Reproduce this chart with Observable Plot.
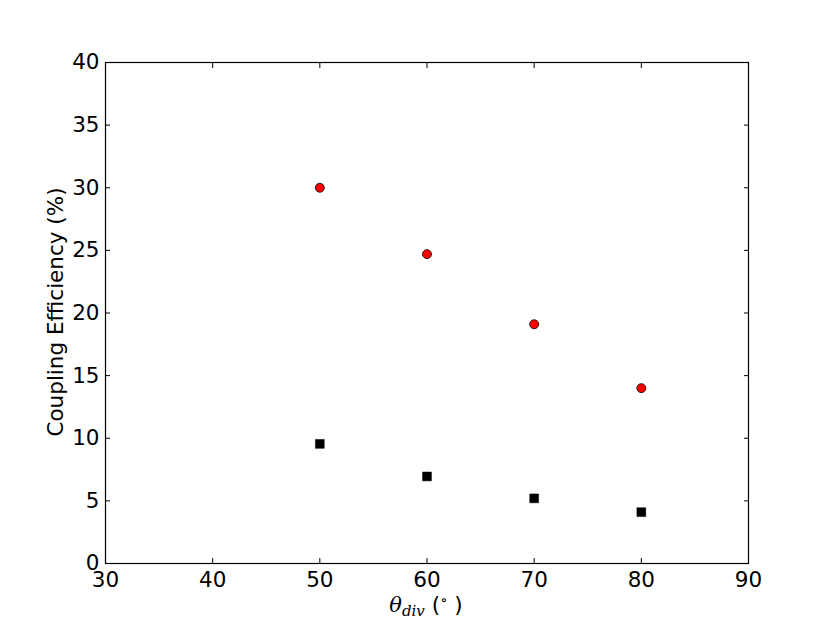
<!DOCTYPE html>
<html>
<head>
<meta charset="utf-8">
<script src="https://cdn.jsdelivr.net/npm/d3@7"></script>
<script src="https://cdn.jsdelivr.net/npm/@observablehq/plot@0.6"></script>
<style>
  html, body { margin: 0; padding: 0; background: #fff; }
  #chart svg { display: block; }
</style>
</head>
<body>
<div id="chart"></div>
<script>
const thetaDiv = [50, 60, 70, 80];
const efficiencyCircles = [30.0, 24.7, 19.1, 14.0];
const efficiencySquares = [9.55, 6.95, 5.2, 4.1];
const xTicks = [30, 40, 50, 60, 70, 80, 90];
const yTicks = [0, 5, 10, 15, 20, 25, 30, 35, 40];

const circles = thetaDiv.map((t, i) => ({x: t, y: efficiencyCircles[i]}));
const squares = thetaDiv.map((t, i) => ({x: t, y: efficiencySquares[i]}));

const font = "DejaVu Sans, sans-serif";
const blank = () => "";
const fs = 21.5;

const plot = Plot.plot({
  width: 830,
  height: 626,
  marginLeft: 105,
  marginRight: 82,
  marginTop: 62,
  marginBottom: 63,
  style: {fontFamily: font, fontSize: fs + "px", color: "black", background: "white"},
  x: {domain: [30, 90]},
  y: {domain: [0, 40]},
  marks: [
    Plot.axisX({anchor: "bottom", ticks: xTicks, tickSize: -5, tickPadding: 13, label: null, fontSize: fs}),
    Plot.axisX({anchor: "top", ticks: xTicks, tickSize: -5, tickFormat: blank, label: null}),
    Plot.axisY({anchor: "left", ticks: yTicks, tickSize: -5, tickPadding: 11, label: null, fontSize: fs}),
    Plot.axisY({anchor: "right", ticks: yTicks, tickSize: -5, tickFormat: blank, label: null}),
    Plot.frame({stroke: "black", strokeWidth: 1.2}),
    Plot.dot(circles, {x: "x", y: "y", r: 4.5, fill: "red", stroke: "black", strokeWidth: 0.8}),
    Plot.dot(squares, {x: "x", y: "y", r: 5, symbol: "square", fill: "black", stroke: "black", strokeWidth: 0.5})
  ]
});

document.getElementById("chart").appendChild(plot);

const svg = d3.select(plot);
svg.selectAll('g[aria-label$="tick label"]')
  .attr("font-size", fs)
  .attr("font-family", font)
  .style("font-size", fs + "px");

// y-axis label
svg.append("text")
  .attr("transform", "translate(63,312) rotate(-90)")
  .attr("text-anchor", "middle")
  .attr("font-family", font)
  .attr("font-size", fs)
  .attr("fill", "black")
  .text("Coupling Efficiency (%)");

// x-axis label: θ_div (°)
const xl = svg.append("text")
  .attr("x", 426)
  .attr("y", 612)
  .attr("text-anchor", "middle")
  .attr("font-size", 21)
  .attr("fill", "black");
xl.append("tspan").attr("font-family", "DejaVu Serif, serif").attr("font-style", "italic").text("θ");
xl.append("tspan").attr("font-family", "DejaVu Serif, serif").attr("font-style", "italic")
  .attr("font-size", 15).attr("dy", 4).text("div");
xl.append("tspan").attr("font-family", font).attr("font-size", fs).attr("dy", -4).text(" (");
xl.append("tspan").attr("font-family", "DejaVu Serif, serif").attr("font-size", 15).attr("dy", -7).text("∘");
xl.append("tspan").attr("font-family", font).attr("font-size", fs).attr("dy", 7).text(" )");
</script>
</body>
</html>
